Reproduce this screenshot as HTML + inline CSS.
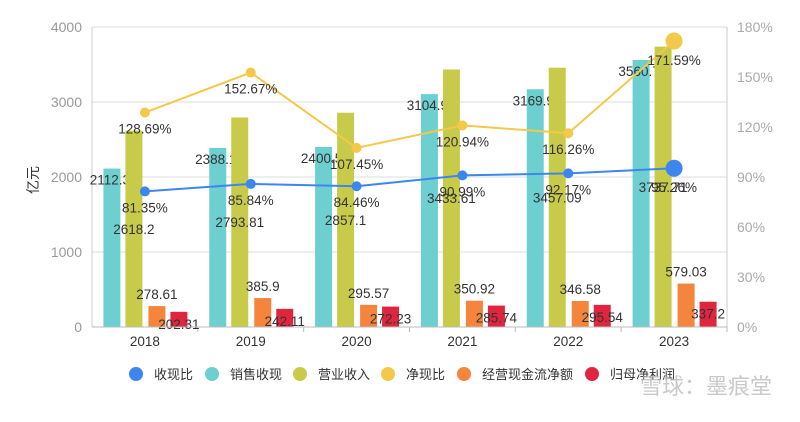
<!DOCTYPE html>
<html><head><meta charset="utf-8"><style>
body{margin:0;background:#fff;}
svg text{font-family:"Liberation Sans","Noto Sans CJK SC",sans-serif;}
</style></head><body>
<svg id="c" width="800" height="417"></svg>
<script>
const years=["2018","2019","2020","2021","2022","2023"];
const salesCash=[2112.3,2388.1,2400.5,3104.9,3169.9,3560.7];
const revenue=[2618.2,2793.81,2857.1,3433.61,3457.09,3737.71];
const opCash=[278.61,385.9,295.57,350.92,346.58,579.03];
const netProfit=[202.31,242.11,272.23,285.74,295.54,337.2];
const cashRatio=[81.35,85.84,84.46,90.99,92.17,95.26];
const netCashRatio=[128.69,152.67,107.45,120.94,116.26,171.59];
const leftTicks=[0,1000,2000,3000,4000];
const rightTicks=[0,30,60,90,120,150,180];

const svg=document.getElementById('c');
const NS="http://www.w3.org/2000/svg";
const L=92,R=727,T=27,B=327;
const yL=v=>B-(v/4000)*(B-T);
const yR=v=>B-(v/180)*(B-T);
const step=(R-L)/6;
const xc=i=>L+step*(i+0.5);
function el(tag,attrs,parent){const e=document.createElementNS(NS,tag);for(const k in attrs)e.setAttribute(k,attrs[k]);(parent||svg).appendChild(e);return e;}
function txt(x,y,s,attrs){const t=el('text',Object.assign({x:x,y:y,'font-size':13.5,fill:'#333'},attrs||{}));t.textContent=s;return t;}

leftTicks.forEach(v=>{
  if(v>0){
  const g=el('line',{x1:L,x2:R,y1:yL(v),y2:yL(v),stroke:'#ddd','stroke-width':1});
  
  
  }
  const t=txt(82,yL(v)+5,String(v),{'text-anchor':'end',fill:'#999','font-size':14});
  
  
});
rightTicks.forEach(v=>{
  const t=txt(737,yR(v)+5,v+'%',{fill:'#aaa','font-size':14});
  
  
});
const fr=el('line',{x1:R,x2:R,y1:T,y2:B,stroke:'#ccc'});


const fl=el('line',{x1:L,x2:L,y1:T,y2:B,stroke:'#ccc'});


const yt=txt(38,180,'亿元',{'font-size':14,fill:'#333',transform:'rotate(-90 38 180)','text-anchor':'middle'});



years.forEach((y,i)=>{
  const t=txt(xc(i),346,y,{'text-anchor':'middle','font-size':13.5});
  
  
  const tk=el('line',{x1:L+step*(i+1),x2:L+step*(i+1),y1:B,y2:B+5,stroke:'#bbb'});
  
  
});

function bars(data,color,off,name,labelY){
  data.forEach((v,i)=>{
    const x=xc(i)+off;
    const r=el('rect',{x:x-8.5,y:yL(v),width:17,height:B-yL(v),fill:color});
    
    
  });
}
function barLabels(data,off,dx,ly,name){
  data.forEach((v,i)=>{
    const t=txt(xc(i)+off+dx,ly(v),String(v),{'text-anchor':'middle'});
    
    
  });
}
bars(salesCash,'#6dcfcf',-33,'bar-sales-cash');
barLabels(salesCash,-33,-2,v=>yL(v)+16,'sales-cash-label');
bars(revenue,'#c8cb4a',-11,'bar-revenue');
bars(opCash,'#f5843d',12,'bar-operating-cash');
bars(netProfit,'#e0253e',34,'bar-net-profit');
barLabels(revenue,-11,0,v=>(yL(v)+B)/2+5,'revenue-label');
barLabels(opCash,12,0,v=>yL(v)-7,'operating-cash-label');
barLabels(netProfit,34,0,v=>yL(v)+17,'net-profit-label');
const axis=el('line',{x1:L,x2:R,y1:B,y2:B,stroke:'#bbb'});



function line(data,color,name){
  const pts=data.map((v,i)=>xc(i)+','+yR(v)).join(' ');
  const p=el('polyline',{points:pts,fill:'none',stroke:color,'stroke-width':2});
  
  
  data.forEach((v,i)=>{
    const last=i===data.length-1;
    const c=el('circle',{cx:xc(i),cy:yR(v),r:last?8.5:5,fill:color});
    
    
    const t=txt(xc(i),yR(v)+(last?24:21),v.toFixed(2)+'%',{'text-anchor':'middle'});
    
    
  });
}
line(netCashRatio,'#f4c84a','net-cash-ratio');
line(cashRatio,'#3d86f0','cash-ratio');

const leg=[['收现比','#3d86f0',136],['销售收现','#6dcfcf',212],['营业收入','#c8cb4a',300],['净现比','#f4c84a',388],['经营现金流净额','#f5843d',464],['归母净利润','#e0253e',592]];
leg.forEach(l=>{
  const g=el('g',{});
  
  
  el('circle',{cx:l[2],cy:374,r:7,fill:l[1]},g);
  const t=el('text',{x:l[2]+18,y:379,'font-size':13,fill:'#333'},g);t.textContent=l[0];
});
const w=txt(640,394,'雪球：墨痕堂',{'font-size':22,fill:'#bbb','fill-opacity':0.8});


</script>
</body></html>
